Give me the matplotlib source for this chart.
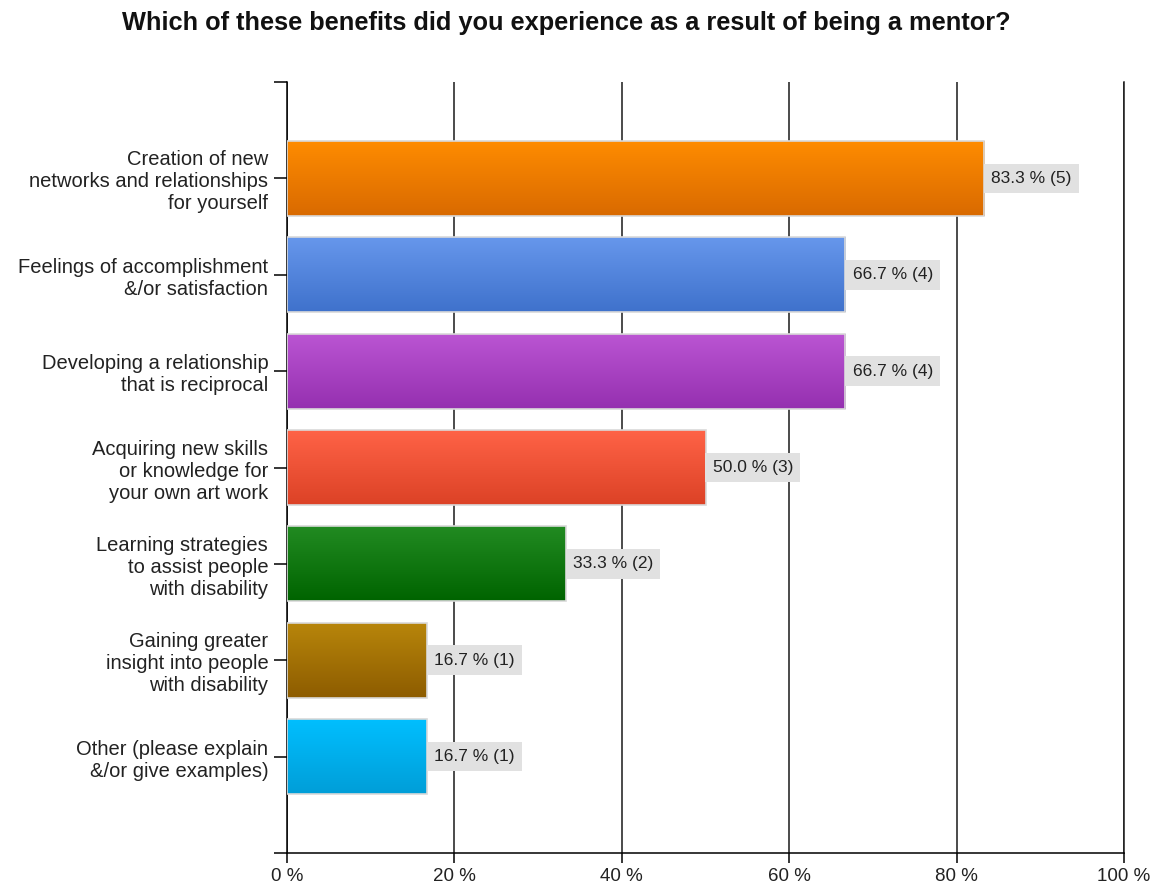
import matplotlib
matplotlib.use('Agg')
import matplotlib.pyplot as plt
import matplotlib.colors as mcolors
import numpy as np

plt.rcParams.update({
    'font.family': 'Liberation Sans',
    'axes.linewidth': 1.1,
})

categories = [
    'Creation of new\nnetworks and relationships\nfor yourself',
    'Feelings of accomplishment\n&/or satisfaction',
    'Developing a relationship\nthat is reciprocal',
    'Acquiring new skills\nor knowledge for\nyour own art work',
    'Learning strategies\nto assist people\nwith disability',
    'Gaining greater\ninsight into people\nwith disability',
    'Other (please explain\n&/or give examples)',
]
percents = [83.3, 66.7, 66.7, 50.0, 33.3, 16.7, 16.7]
counts = [5, 4, 4, 3, 2, 1, 1]

# (top, bottom) colour of each bar's vertical gradient
bar_colors = [
    ('#FF8C00', '#D96A00'),
    ('#6797EC', '#3F72CC'),
    ('#BB55D3', '#9530B0'),
    ('#FF6347', '#DC4226'),
    ('#228B22', '#006400'),
    ('#B8860B', '#8D5C00'),
    ('#00BFFF', '#009ED8'),
]

TITLE = 'Which of these benefits did you experience as a result of being a mentor?'

fig = plt.figure(figsize=(11.66, 8.88), dpi=100)
ax = fig.add_axes([287 / 1166, 1 - 853 / 888, (1124 - 287) / 1166, (853 - 82) / 888])

ypos = np.arange(1, len(categories) + 1)
bar_h = 0.78
bars = ax.barh(ypos, percents, height=bar_h, facecolor='none',
               edgecolor='#d9d9d9', linewidth=1.2, zorder=4)

# gradient fill clipped to each bar
for patch, (c_top, c_bot) in zip(bars.patches, bar_colors):
    x0, y0 = patch.get_x(), patch.get_y()
    w, h = patch.get_width(), patch.get_height()
    t = np.linspace(0, 1, 64)[:, None, None]
    top = np.array(mcolors.to_rgb(c_top))[None, None, :]
    bot = np.array(mcolors.to_rgb(c_bot))[None, None, :]
    grad = top * (1 - t) + bot * t
    im = ax.imshow(grad, extent=(x0, x0 + w, y0 + h, y0), origin='upper',
                   aspect='auto', interpolation='bilinear', zorder=3)
    im.set_clip_path(patch)

# value labels with grey boxes
for y, p, c in zip(ypos, percents, counts):
    ax.annotate(f'{p:.1f} % ({c})', (p, y), xytext=(5.2, 0),
                textcoords='offset points', ha='left', va='center',
                fontsize=12.5, color='#222222', zorder=6,
                bbox=dict(boxstyle='square,pad=0.42', fc='#e1e1e1', ec='none'))

ax.set_xlim(0, 100)
ax.set_ylim(8, 0)

ax.set_xticks(range(0, 101, 20))
ax.set_xticklabels([f'{v} %' for v in range(0, 101, 20)], fontsize=13.5, color='#222222')
ax.set_yticks(range(0, 9))
ax.set_yticklabels([''] + categories + [''], fontsize=14.5, color='#222222',
                   linespacing=1.2)
ax.tick_params(axis='x', direction='out', length=7.5, width=1.1, pad=3.5)
ax.tick_params(axis='y', direction='out', length=9.5, width=1.1, pad=4)

ax.grid(axis='x', color='#1a1a1a', linewidth=1.1, zorder=1)
ax.set_axisbelow(True)
ax.spines['top'].set_visible(False)
ax.spines['right'].set_color('#1a1a1a')

fig.text(566 / 1166, 1 - 23 / 888, TITLE, ha='center', va='center',
         fontsize=18.3, fontweight='bold', color='#111111')

fig.savefig('out.png', dpi=100, facecolor='white')
